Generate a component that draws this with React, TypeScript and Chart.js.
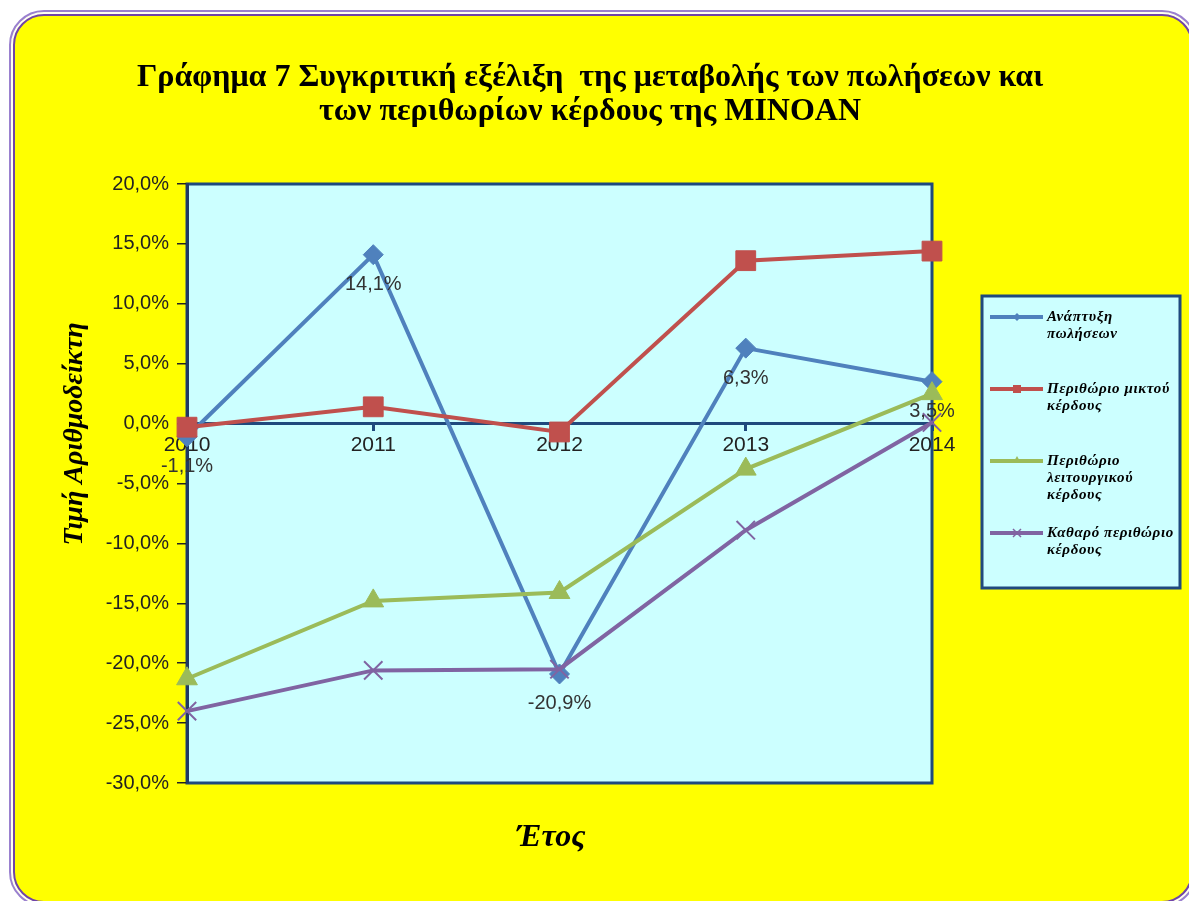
import React, { useEffect, useRef } from "react";
import { Chart, registerables } from "chart.js";

Chart.register(...registerables);

// ---- Data ----
const years = ["2010", "2011", "2012", "2013", "2014"];
const salesGrowth = [-1.1, 14.1, -20.9, 6.3, 3.5];
const grossMargin = [-0.3, 1.4, -0.7, 13.6, 14.4];
const operatingMargin = [-21.3, -14.8, -14.1, -3.8, 2.5];
const netMargin = [-24.0, -20.6, -20.5, -8.9, 0.1];

const seriesNames = [
  "Ανάπτυξη πωλήσεων",
  "Περιθώριο μικτού κέρδους",
  "Περιθώριο λειτουργικού κέρδους",
  "Καθαρό περιθώριο κέρδους",
];
const legendLines = [
  ["Ανάπτυξη", "πωλήσεων"],
  ["Περιθώριο μικτού", "κέρδους"],
  ["Περιθώριο", "λειτουργικού", "κέρδους"],
  ["Καθαρό περιθώριο", "κέρδους"],
];
const titleLines = [
  "Γράφημα 7 Συγκριτική εξέλιξη  της μεταβολής των πωλήσεων και",
  "των περιθωρίων κέρδους της MINOAN",
];
const yAxisTitle = "Τιμή Αριθμοδείκτη";
const xAxisTitle = "Έτος";
const yMin = -30;
const yMax = 20;
const yStep = 5;

const colors = ["#4F81BD", "#C0504D", "#9BBB59", "#8064A2"];
const pointStyles = ["rectRot", "rect", "triangle", "crossRot"];
const pointRadii = [10, 14, 12, 13];

const fmt = (v: number) => v.toFixed(1).replace(".", ",") + "%";

const W = 1189;
const H = 901;

const framePlugin = {
  id: "frame",
  beforeDraw(chart: any) {
    const { ctx, chartArea: a } = chart;
    ctx.save();
    ctx.fillStyle = "#FFFFFF";
    ctx.fillRect(0, 0, W, H);
    ctx.beginPath();
    ctx.roundRect(10, 11, 1186, 895, 34);
    ctx.fillStyle = "#FFFFF0";
    ctx.fill();
    ctx.lineWidth = 2;
    ctx.strokeStyle = "#9A80CF";
    ctx.stroke();
    ctx.beginPath();
    ctx.roundRect(14, 15, 1178, 887, 30);
    ctx.fillStyle = "#FFFF00";
    ctx.fill();
    ctx.lineWidth = 2;
    ctx.strokeStyle = "#7044A8";
    ctx.stroke();
    // plot area
    ctx.fillStyle = "#CCFFFF";
    ctx.fillRect(a.left, a.top, a.right - a.left, a.bottom - a.top);
    ctx.lineWidth = 3;
    ctx.strokeStyle = "#1F497D";
    ctx.strokeRect(a.left, a.top, a.right - a.left, a.bottom - a.top);
    ctx.restore();
  },
};

const labelsPlugin = {
  id: "extras",
  afterDatasetsDraw(chart: any) {
    const { ctx } = chart;
    const meta = chart.getDatasetMeta(0);
    ctx.save();
    ctx.font = '20px "Liberation Sans", Arial, sans-serif';
    ctx.fillStyle = "#333333";
    ctx.textAlign = "center";
    ctx.textBaseline = "middle";
    meta.data.forEach((pt: any, i: number) => {
      ctx.fillText(fmt(salesGrowth[i]), pt.x, pt.y + 30);
    });
    ctx.restore();
  },
  afterDraw(chart: any) {
    const { ctx } = chart;
    ctx.save();
    // axis titles
    ctx.fillStyle = "#000";
    ctx.textAlign = "center";
    ctx.textBaseline = "middle";
    ctx.font = 'italic bold 28px "Liberation Serif", "Times New Roman", serif';
    ctx.save();
    ctx.translate(75, 434);
    ctx.rotate(-Math.PI / 2);
    ctx.fillText(yAxisTitle, 0, 0);
    ctx.restore();
    ctx.font = 'italic bold 32px "Liberation Serif", "Times New Roman", serif';
    ctx.fillText(xAxisTitle, 551, 838);

    // legend
    const bx = 982, by = 296, bw = 198, bh = 292;
    ctx.fillStyle = "#CCFFFF";
    ctx.fillRect(bx, by, bw, bh);
    ctx.lineWidth = 3;
    ctx.strokeStyle = "#1F497D";
    ctx.strokeRect(bx, by, bw, bh);
    chart.data.datasets.forEach((ds: any, i: number) => {
      const y = by + 21 + i * 72;
      ctx.strokeStyle = ds.borderColor;
      ctx.lineWidth = 4;
      ctx.beginPath();
      ctx.moveTo(990, y);
      ctx.lineTo(1043, y);
      ctx.stroke();
      const cx = 1017;
      ctx.fillStyle = ds.borderColor;
      ctx.lineWidth = 1.5;
      ctx.beginPath();
      if (ds.pointStyle === "rect") {
        ctx.rect(cx - 4, y - 4, 8, 8);
        ctx.fill();
      } else if (ds.pointStyle === "rectRot") {
        ctx.moveTo(cx, y - 4); ctx.lineTo(cx + 4, y); ctx.lineTo(cx, y + 4); ctx.lineTo(cx - 4, y); ctx.closePath();
        ctx.fill();
      } else if (ds.pointStyle === "triangle") {
        ctx.moveTo(cx, y - 5); ctx.lineTo(cx + 4, y + 2); ctx.lineTo(cx - 4, y + 2); ctx.closePath();
        ctx.fill();
      } else {
        ctx.moveTo(cx - 4, y - 4); ctx.lineTo(cx + 4, y + 4);
        ctx.moveTo(cx + 4, y - 4); ctx.lineTo(cx - 4, y + 4);
        ctx.stroke();
      }
      ctx.fillStyle = "#000";
      ctx.textAlign = "left";
      ctx.textBaseline = "middle";
      ctx.font = 'italic bold 15px "Liberation Serif", "Times New Roman", serif';
      (ctx as any).letterSpacing = "0.6px";
      legendLines[i].forEach((ln, j) => {
        ctx.fillText(ln, 1047, y + j * 17);
      });
      (ctx as any).letterSpacing = "0px";
    });
    ctx.restore();
  },
};

export default function App() {
  const ref = useRef<HTMLCanvasElement | null>(null);

  useEffect(() => {
    if (!ref.current) return;
    const series = [salesGrowth, grossMargin, operatingMargin, netMargin];
    const chart = new Chart(ref.current, {
      type: "line",
      data: {
        labels: years,
        datasets: series.map((d, i) => ({
          label: seriesNames[i],
          data: d,
          borderColor: colors[i],
          backgroundColor: colors[i],
          pointBackgroundColor: colors[i],
          pointBorderColor: colors[i],
          pointStyle: pointStyles[i],
          pointRadius: pointRadii[i],
          pointBorderWidth: i === 3 ? 2 : 1,
          borderWidth: 4,
          tension: 0,
          clip: false,
          order: 4 - i,
          yAxisID: "y",
          xAxisID: "x",
        })),
      },
      plugins: [framePlugin, labelsPlugin],
      options: {
        responsive: false,
        animation: false,
        devicePixelRatio: 1,
        layout: { padding: { left: 0, right: 9, top: 0, bottom: 118 } },
        plugins: {
          legend: { display: false },
          tooltip: { enabled: false },
          title: {
            display: true,
            text: titleLines,
            color: "#000",
            font: {
              family: '"Liberation Serif", "Times New Roman", serif',
              size: 32,
              weight: "bold",
              lineHeight: 34 / 32,
            },
            padding: { top: 61, bottom: 55 },
          },
        },
        scales: {
          x: {
            type: "category",
            position: { y: 0 },
            offset: false,
            grid: {
              drawOnChartArea: false,
              drawTicks: true,
              tickLength: 6,
              color: "#1F497D",
              lineWidth: 3,
            },
            border: { display: true, color: "#1F497D", width: 3 },
            ticks: {
              color: "#222",
              padding: 3,
              maxRotation: 0,
              font: { family: '"Liberation Sans", Arial, sans-serif', size: 21 },
            },
          },
          y: {
            position: "left",
            min: yMin,
            max: yMax,
            ticks: {
              stepSize: yStep,
              color: "#222",
              padding: 8,
              font: { family: '"Liberation Sans", Arial, sans-serif', size: 20 },
              callback: (v: any) => fmt(Number(v)),
            },
            grid: {
              drawOnChartArea: false,
              drawTicks: true,
              tickLength: 10,
              color: "#222",
              lineWidth: 1.5,
            },
            border: { display: true, color: "#1F3864", width: 3 },
            afterFit: (s: any) => {
              s.width = 187;
            },
          },
          yR: {
            position: "right",
            display: true,
            grid: { display: false },
            border: { display: false },
            ticks: { display: false },
            afterFit: (s: any) => {
              s.width = 248;
            },
          },
        },
      },
    } as any);
    return () => chart.destroy();
  }, []);

  return (
    <div style={{ position: "absolute", left: 0, top: 0, width: W, height: H }}>
      <canvas ref={ref} width={W} height={H} style={{ width: W, height: H, display: "block" }} />
    </div>
  );
}
